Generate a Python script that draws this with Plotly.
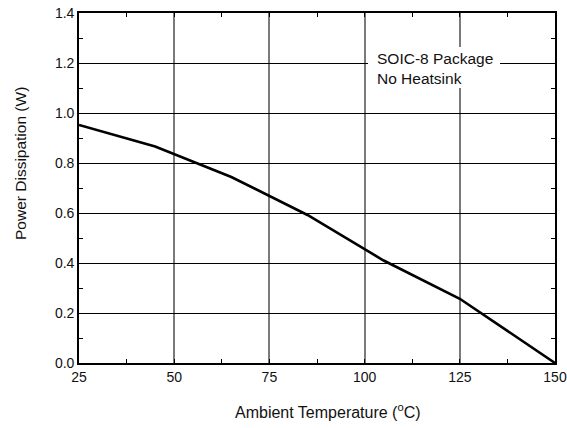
import plotly.graph_objects as go

temperature_c = [25, 45, 65, 85, 105, 125, 150]
power_w = [0.952, 0.866, 0.744, 0.592, 0.41, 0.257, 0.0]
x_ticks = [25, 50, 75, 100, 125, 150]
y_ticks = [0.0, 0.2, 0.4, 0.6, 0.8, 1.0, 1.2, 1.4]
y_tick_labels = ["0.0", "0.2", "0.4", "0.6", "0.8", "1.0", "1.2", "1.4"]
note_lines = ["SOIC-8 Package", "No Heatsink"]
x_title = "Ambient Temperature (<sup>o</sup>C)"
y_title = "Power Dissipation (W)"

FONT = "Liberation Sans, Arial, sans-serif"

# plot area in page pixels: x 79-555, y 13-363 (body margin removed below)
PL, PR, PT, PB = 79, 555, 13, 363
W, H = 567, 428
PW, PH = PR - PL, PB - PT


def px(xp):
    return (xp - PL) / PW


def py(yp):
    return (PB - yp) / PH


fig = go.Figure()
fig.add_trace(go.Scatter(
    x=temperature_c, y=power_w, mode="lines",
    line=dict(color="black", width=2.6), showlegend=False,
))

fig.update_layout(
    width=W, height=H,
    margin=dict(l=PL, r=W - PR, t=PT, b=H - PB),
    paper_bgcolor="white", plot_bgcolor="white",
    font=dict(family=FONT, size=14, color="#111111"),
    xaxis=dict(
        range=[25, 150], tickvals=x_ticks, ticktext=[str(v) for v in x_ticks],
        automargin=False, ticklabeloverflow="allow",
        showgrid=True, gridcolor="#7a7a7a", gridwidth=1.6,
        showline=True, linecolor="black", linewidth=1.6, mirror="allticks",
        ticks="inside", ticklen=4, tickcolor="black", tickwidth=1,
        minor=dict(dtick=12.5, tick0=25, ticks="inside", ticklen=4,
                   tickcolor="black", tickwidth=1, showgrid=False),
        zeroline=False,
        tickfont=dict(size=14),
    ),
    yaxis=dict(
        range=[0, 1.4], tickvals=y_ticks, ticktext=y_tick_labels,
        automargin=False, ticklabeloverflow="allow",
        showgrid=True, gridcolor="black", gridwidth=1.1,
        showline=True, linecolor="black", linewidth=1.6, mirror="allticks",
        ticks="inside", ticklen=4, tickcolor="black", tickwidth=1,
        minor=dict(dtick=0.1, tick0=0, ticks="inside", ticklen=4,
                   tickcolor="black", tickwidth=1, showgrid=False),
        zeroline=False,
        tickfont=dict(size=14),
    ),
)

# axis titles
fig.add_annotation(
    xref="paper", yref="paper", x=px(327.5), y=py(411),
    xanchor="center", yanchor="middle", text=x_title, showarrow=False,
    font=dict(size=16, family=FONT),
)
fig.add_annotation(
    xref="paper", yref="paper", x=px(21), y=py(164),
    xanchor="center", yanchor="middle", text=y_title, showarrow=False,
    textangle=-90, font=dict(size=15.5, family=FONT),
)

# white box behind the note
fig.add_shape(
    type="rect", xref="paper", yref="paper",
    x0=px(368), x1=px(500), y0=py(88), y1=py(47),
    fillcolor="white", line=dict(width=0), layer="above",
)
fig.add_annotation(
    xref="paper", yref="paper", x=px(375), y=py(48),
    xanchor="left", yanchor="top", align="left",
    text="<br>".join(note_lines), showarrow=False,
    font=dict(size=15.5, family=FONT),
)

fig.write_html(
    "out.html",
    config={"displayModeBar": False},
    post_script="document.body.style.margin='0';document.body.style.overflow='hidden';",
)
